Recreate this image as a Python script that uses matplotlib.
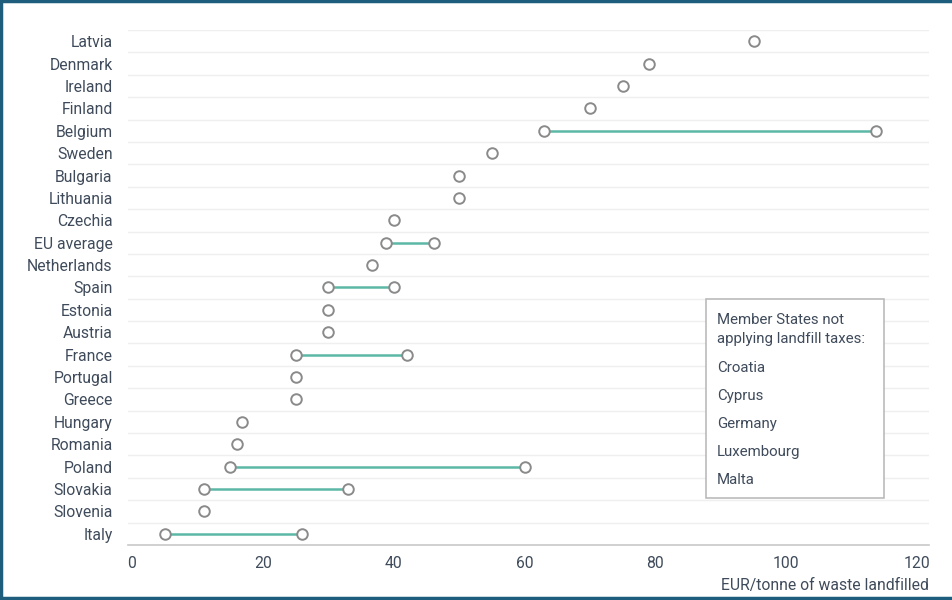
import matplotlib
matplotlib.use("Agg")
import matplotlib.pyplot as plt
from matplotlib.lines import Line2D

# pays de haut en bas
countries = ["Latvia", "Denmark", "Ireland", "Finland", "Belgium", "Sweden",
             "Bulgaria", "Lithuania", "Czechia", "EU average", "Netherlands",
             "Spain", "Estonia", "Austria", "France", "Portugal", "Greece",
             "Hungary", "Romania", "Poland", "Slovakia", "Slovenia", "Italy"]
# taux minimum et maximum (EUR/tonne)
tax_low = [95, 79, 75, 70, 63, 55, 50, 50, 40, 38.8, 36.7, 30, 30, 30, 25,
           25, 25, 16.8, 16, 15, 11, 11, 5]
tax_high = [95, 79, 75, 70, 113.7, 55, 50, 50, 40, 46.2, 36.7, 40, 30, 30, 42,
            25, 25, 16.8, 16, 60, 33, 11, 26]
no_tax = ["Croatia", "Cyprus", "Germany", "Luxembourg", "Malta"]
xticks = [0, 20, 40, 60, 80, 100, 120]

text_col = "#3f4b5b"
teal = "#5cb8a6"
grey = "#8a8a8a"

plt.rcParams["font.family"] = ["Roboto", "DejaVu Sans"]

fig = plt.figure(figsize=(9.52, 6.0), dpi=100)
ax = fig.add_axes([128 / 952, 1 - 545 / 600, (929 - 128) / 952, (545 - 30) / 600])

n = len(countries)
ys = list(range(n))
for y, lo, hi in zip(ys, tax_low, tax_high):
    if hi != lo:
        ax.plot([lo, hi], [y, y], color=teal, lw=1.8, zorder=2)
        ax.plot([lo, hi], [y, y], "o", ms=7.6, mfc="white", mec=grey, mew=1.4, zorder=3)
    else:
        ax.plot([lo], [y], "o", ms=7.6, mfc="white", mec=grey, mew=1.4, zorder=3)

ax.set_ylim(n - 0.5, -0.5)
ax.set_xlim(-0.6, 121.8)
ax.set_yticks(ys)
ax.set_yticklabels(countries, fontsize=11.3, color=text_col)
ax.set_xticks(xticks)
ax.set_xticklabels([str(t) for t in xticks], fontsize=11.3, color=text_col)
ax.tick_params(axis="y", length=0, pad=11)
ax.tick_params(axis="x", length=0, pad=8)

# lignes horizontales entre les pays
for b in range(n):
    ax.axhline(b - 0.5, color="#efefef", lw=1, zorder=0)
for s in ["top", "right", "left"]:
    ax.spines[s].set_visible(False)
ax.spines["bottom"].set_color("#c8c8c8")
ax.spines["bottom"].set_linewidth(1.2)

ax.set_xlabel("EUR/tonne of waste landfilled", fontsize=11.3, color=text_col,
              loc="right", labelpad=5)

# encadre des pays sans taxe
box_x0, box_x1 = 706 / 952, 884 / 952
box_y0, box_y1 = 1 - 498 / 600, 1 - 299 / 600
fig.add_artist(plt.Rectangle((box_x0, box_y0), box_x1 - box_x0, box_y1 - box_y0,
                             transform=fig.transFigure, fill=True, fc="white",
                             ec="#b5b5b5", lw=1.1, zorder=5))
fig.text(717 / 952, 1 - 320 / 600, "Member States not", fontsize=10.8,
         color=text_col, va="center", zorder=6)
fig.text(717 / 952, 1 - 339 / 600, "applying landfill taxes:", fontsize=10.8,
         color=text_col, va="center", zorder=6)
for i, c in enumerate(no_tax):
    fig.text(717 / 952, 1 - (368 + i * 28) / 600, c, fontsize=10.8,
             color=text_col, va="center", zorder=6)

# cadre bleu
border = "#1f5d7c"
fig.add_artist(Line2D([0, 1], [0.998, 0.998], color=border, lw=2.5, transform=fig.transFigure))
fig.add_artist(Line2D([0.001, 0.001], [0, 1], color=border, lw=2.5, transform=fig.transFigure))
fig.add_artist(Line2D([0, 1], [0.003, 0.003], color=border, lw=2.5, transform=fig.transFigure))

fig.savefig("out.png", dpi=100)
